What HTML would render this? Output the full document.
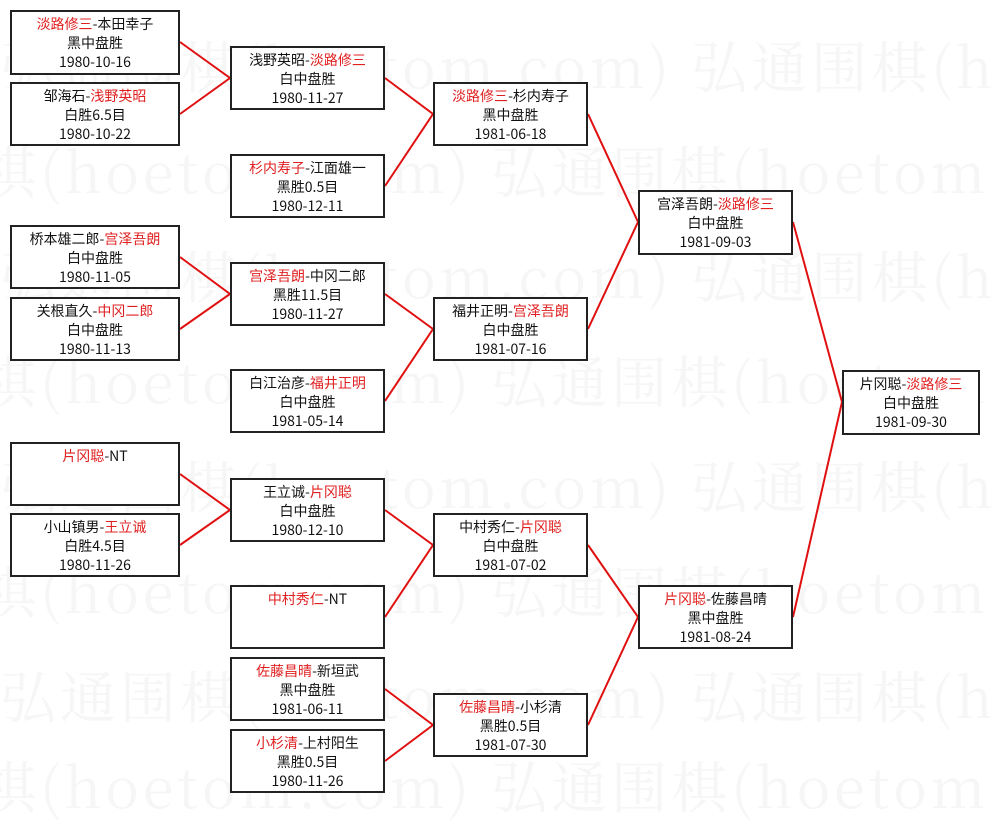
<!DOCTYPE html>
<html><head><meta charset="utf-8"><style>
body{margin:0;width:991px;height:805px;background:#fff;position:relative;overflow:hidden;font-family:"Liberation Sans","Noto Sans CJK SC",sans-serif;}
.b{position:absolute;box-sizing:border-box;border:2px solid #222;background:#fff;text-align:center;font-size:14px;line-height:19px;color:#111;padding-top:3px;font-family:"Noto Sans CJK SC","WenQuanYi Zen Hei",sans-serif}
.r{color:#e02020}
.wm{position:absolute;font-size:56px;color:#f6f6f6;white-space:nowrap;font-family:"Noto Serif CJK SC",serif;letter-spacing:4px}
svg{position:absolute;left:0;top:0}
</style></head><body>
<div class="wm" style="left:0;top:25px">弘通围棋(hoetom.com) 弘通围棋(hoetom.com)</div>
<div class="wm" style="left:-200px;top:130px">弘通围棋(hoetom.com) 弘通围棋(hoetom.com)</div>
<div class="wm" style="left:0;top:235px">弘通围棋(hoetom.com) 弘通围棋(hoetom.com)</div>
<div class="wm" style="left:-200px;top:340px">弘通围棋(hoetom.com) 弘通围棋(hoetom.com)</div>
<div class="wm" style="left:0;top:445px">弘通围棋(hoetom.com) 弘通围棋(hoetom.com)</div>
<div class="wm" style="left:-200px;top:550px">弘通围棋(hoetom.com) 弘通围棋(hoetom.com)</div>
<div class="wm" style="left:0;top:655px">弘通围棋(hoetom.com) 弘通围棋(hoetom.com)</div>
<div class="wm" style="left:-200px;top:745px">弘通围棋(hoetom.com) 弘通围棋(hoetom.com)</div>
<svg width="991" height="805" stroke="#e01010" stroke-width="2" fill="none">
<path d="M180 42L230 78L180 114"/>
<path d="M180 257L230 294L180 329"/>
<path d="M180 474L230 510L180 545"/>
<path d="M385 78L433 114L385 186"/>
<path d="M385 294L433 329L385 401"/>
<path d="M385 510L433 545L385 617"/>
<path d="M385 689L433 725L385 761"/>
<path d="M588 114L638 222L588 329"/>
<path d="M588 545L638 617L588 725"/>
<path d="M793 222L842 402L793 617"/>
</svg>
<div class="b" style="left:10px;top:10px;width:170px;height:65px"><span class="r">淡路修三</span>-本田幸子<br>黑中盘胜<br>1980-10-16</div>
<div class="b" style="left:10px;top:82px;width:170px;height:64px">邹海石-<span class="r">浅野英昭</span><br>白胜6.5目<br>1980-10-22</div>
<div class="b" style="left:10px;top:225px;width:170px;height:64px">桥本雄二郎-<span class="r">宫泽吾朗</span><br>白中盘胜<br>1980-11-05</div>
<div class="b" style="left:10px;top:297px;width:170px;height:64px">关根直久-<span class="r">中冈二郎</span><br>白中盘胜<br>1980-11-13</div>
<div class="b" style="left:10px;top:442px;width:170px;height:64px"><span class="r">片冈聪</span>-NT</div>
<div class="b" style="left:10px;top:513px;width:170px;height:64px">小山镇男-<span class="r">王立诚</span><br>白胜4.5目<br>1980-11-26</div>

<div class="b" style="left:230px;top:46px;width:155px;height:64px">浅野英昭-<span class="r">淡路修三</span><br>白中盘胜<br>1980-11-27</div>
<div class="b" style="left:230px;top:154px;width:155px;height:64px"><span class="r">杉内寿子</span>-江面雄一<br>黑胜0.5目<br>1980-12-11</div>
<div class="b" style="left:230px;top:262px;width:155px;height:64px"><span class="r">宫泽吾朗</span>-中冈二郎<br>黑胜11.5目<br>1980-11-27</div>
<div class="b" style="left:230px;top:369px;width:155px;height:64px">白江治彦-<span class="r">福井正明</span><br>白中盘胜<br>1981-05-14</div>
<div class="b" style="left:230px;top:478px;width:155px;height:64px">王立诚-<span class="r">片冈聪</span><br>白中盘胜<br>1980-12-10</div>
<div class="b" style="left:230px;top:585px;width:155px;height:64px"><span class="r">中村秀仁</span>-NT</div>
<div class="b" style="left:230px;top:657px;width:155px;height:64px"><span class="r">佐藤昌晴</span>-新垣武<br>黑中盘胜<br>1981-06-11</div>
<div class="b" style="left:230px;top:729px;width:155px;height:64px"><span class="r">小杉清</span>-上村阳生<br>黑胜0.5目<br>1980-11-26</div>

<div class="b" style="left:433px;top:82px;width:155px;height:64px"><span class="r">淡路修三</span>-杉内寿子<br>黑中盘胜<br>1981-06-18</div>
<div class="b" style="left:433px;top:297px;width:155px;height:64px">福井正明-<span class="r">宫泽吾朗</span><br>白中盘胜<br>1981-07-16</div>
<div class="b" style="left:433px;top:513px;width:155px;height:64px">中村秀仁-<span class="r">片冈聪</span><br>白中盘胜<br>1981-07-02</div>
<div class="b" style="left:433px;top:693px;width:155px;height:64px"><span class="r">佐藤昌晴</span>-小杉清<br>黑胜0.5目<br>1981-07-30</div>

<div class="b" style="left:638px;top:190px;width:155px;height:65px">宫泽吾朗-<span class="r">淡路修三</span><br>白中盘胜<br>1981-09-03</div>
<div class="b" style="left:638px;top:585px;width:155px;height:64px"><span class="r">片冈聪</span>-佐藤昌晴<br>黑中盘胜<br>1981-08-24</div>

<div class="b" style="left:842px;top:370px;width:138px;height:65px">片冈聪-<span class="r">淡路修三</span><br>白中盘胜<br>1981-09-30</div>
</body></html>
